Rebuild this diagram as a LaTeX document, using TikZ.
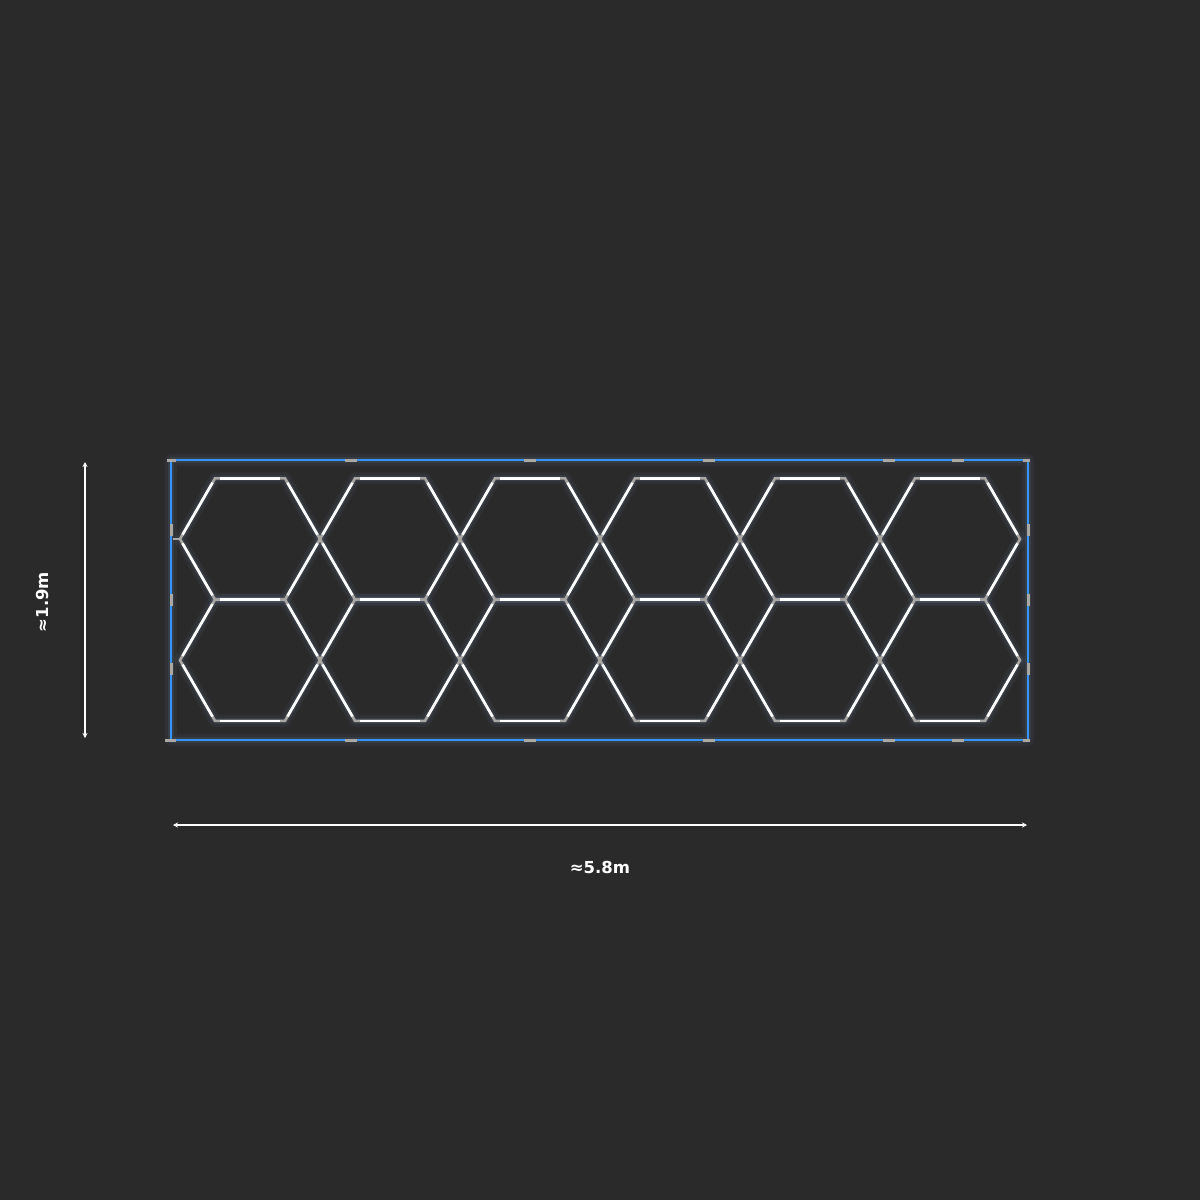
\documentclass[tikz,border=0pt]{standalone}
\usepackage{fontspec}
\setmainfont{DejaVu Sans}
\usetikzlibrary{arrows.meta}
\definecolor{bg}{HTML}{2A2A2A}
\definecolor{framecol}{HTML}{3594FF}
\definecolor{joint}{HTML}{ABA7A3}
\definecolor{glowcol}{HTML}{9CC2FF}
\tikzset{
  glowA/.style={draw=glowcol, draw opacity=0.05, line width=12pt, line join=round},
  glowB/.style={draw=glowcol, draw opacity=0.09, line width=6pt, line join=round},
  greyedge/.style={draw=joint, line width=2.6pt},
  whiteedge/.style={draw=white, line width=2.6pt, shorten <=5pt, shorten >=5pt},
  frameline/.style={draw=framecol, line width=2.6pt},
  jointmark/.style={draw=joint, line width=3pt},
  dimline/.style={draw=white, line width=1.4pt, {Stealth[length=5pt,width=5pt]}-{Stealth[length=5pt,width=5pt]}},
  dimlabel/.style={text=white, font=\bfseries\fontsize{16.5}{16.5}\selectfont, inner sep=0pt}
}
\begin{document}
\begin{tikzpicture}[x=1pt,y=-1pt]
\fill[bg] (0,0) rectangle (1200,1200);
\useasboundingbox (0,0) rectangle (1200,1200);

% glow pass
\foreach \col in {0,...,5} \foreach \row in {0,1} {
  \pgfmathsetmacro\cx{250+140*\col}
  \pgfmathsetmacro\cy{539+121.24*\row}
  \draw[glowA] (\cx+70,\cy) -- (\cx+35,\cy-60.62) -- (\cx-35,\cy-60.62) -- (\cx-70,\cy) -- (\cx-35,\cy+60.62) -- (\cx+35,\cy+60.62) -- cycle;
  \draw[glowB] (\cx+70,\cy) -- (\cx+35,\cy-60.62) -- (\cx-35,\cy-60.62) -- (\cx-70,\cy) -- (\cx-35,\cy+60.62) -- (\cx+35,\cy+60.62) -- cycle;
}
\draw[glowA] (171,460) rectangle (1028,740);
\draw[glowB] (171,460) rectangle (1028,740);

% frame
\draw[frameline] (171,460) rectangle (1028,740);
\foreach \x in {351,530,709,889,958} {
  \draw[jointmark] (\x-6,460) -- (\x+6,460);
  \draw[jointmark] (\x-6,740) -- (\x+6,740);
}
\foreach \y in {530,600,669} {
  \draw[jointmark] (171,\y-6) -- (171,\y+6);
  \draw[jointmark] (1028,\y-6) -- (1028,\y+6);
}
\draw[jointmark] (167,460) -- (176,460);
\draw[jointmark] (1023,460) -- (1029.5,460);
\draw[jointmark] (165,740) -- (176,740);
\draw[jointmark] (1023,740) -- (1029.5,740);
\draw[joint, line width=2pt] (173,539) -- (181,539);

% grey edge pass (joints)
\foreach \col in {0,...,5} \foreach \row in {0,1} {
  \pgfmathsetmacro\cx{250+140*\col}
  \pgfmathsetmacro\cy{539+121.24*\row}
  \draw[greyedge] (\cx+70,\cy) -- (\cx+35,\cy-60.62) -- (\cx-35,\cy-60.62) -- (\cx-70,\cy) -- (\cx-35,\cy+60.62) -- (\cx+35,\cy+60.62) -- cycle;
}
% white edge pass
\foreach \col in {0,...,5} \foreach \row in {0,1} {
  \pgfmathsetmacro\cx{250+140*\col}
  \pgfmathsetmacro\cy{539+121.24*\row}
  \foreach \a in {0,60,...,300} {
    \draw[whiteedge] ({\cx+70*cos(\a)},{\cy+70*sin(\a)}) -- ({\cx+70*cos(\a+60)},{\cy+70*sin(\a+60)});
  }
}

% dimensions
\coordinate (vtop) at (85,462);
\coordinate (vbot) at (85,738);
\coordinate (hl) at (173,825);
\coordinate (hr) at (1027,825);
\draw[dimline] (vtop) -- (vbot);
\draw[dimline] (hl) -- (hr);
\node[dimlabel, rotate=90] (hlabel) at (43,602) {≈1.9m};
\node[dimlabel] (wlabel) at (600,867) {≈5.8m};
\end{tikzpicture}
\end{document}
